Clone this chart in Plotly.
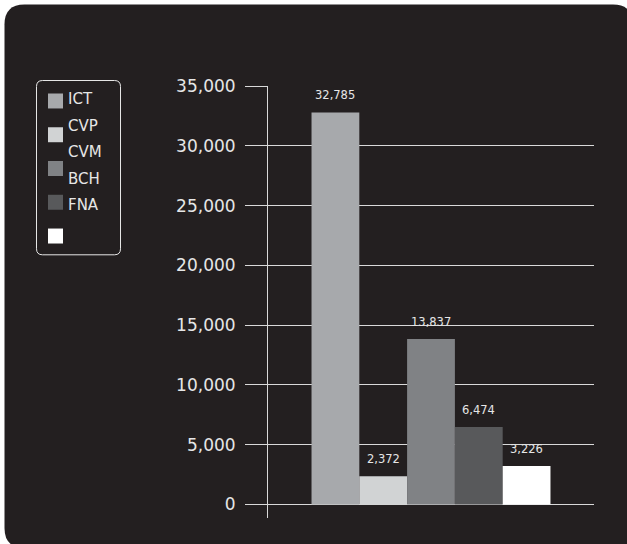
import plotly.graph_objects as go

# Series data
names = ["ICT", "CVP", "CVM", "BCH", "FNA"]
values = [32785, 2372, 13837, 6474, 3226]
colors = ["#a7a9ac", "#d1d3d4", "#808285", "#58595b", "#ffffff"]
y_ticks = [0, 5000, 10000, 15000, 20000, 25000, 30000, 35000]

W, H = 627, 544
ML, MR, MT, MB = 268, 33, 85.5, 26
PW, PH = W - ML - MR, H - MT - MB
BG = "#231f20"
FG = "#e6e6e6"
FONT = "DejaVu Sans"
BARGAP = 0.267


def px_x(px):
    return (px - ML) / PW


def px_y(py):
    return (H - MB - py) / PH


fig = go.Figure()
for name, val, col in zip(names, values, colors):
    fig.add_trace(go.Bar(
        x=[""], y=[val], name=name,
        marker=dict(color=col, line=dict(width=0)),
        showlegend=False,
    ))

annotations = []
# value labels above each bar of the group
bar_px = PW * (1 - BARGAP) / len(values)
for i, val in enumerate(values):
    annotations.append(dict(
        x=0, y=val, xref="x", yref="y",
        xshift=(i - (len(values) - 1) / 2) * bar_px, yshift=8,
        xanchor="center", yanchor="bottom", showarrow=False,
        text=f"{val:,}", font=dict(color=FG, size=11.5, family=FONT),
    ))

shapes = []
# rounded dark panel behind the chart
x0, y0, x1, y1, r = px_x(4.5), px_y(4), px_x(633), px_y(548), 20
rx, ry = r / PW, r / PH
shapes.append(dict(
    type="path", xref="paper", yref="paper", layer="below",
    path=(f"M {x0+rx},{y0} L {x1-rx},{y0} Q {x1},{y0} {x1},{y0-ry} "
          f"L {x1},{y1+ry} Q {x1},{y1} {x1-rx},{y1} "
          f"L {x0+rx},{y1} Q {x0},{y1} {x0},{y1+ry} "
          f"L {x0},{y0-ry} Q {x0},{y0} {x0+rx},{y0} Z"),
    fillcolor=BG, line=dict(width=0),
))

# legend box
lx0, ly0, lx1, ly1, lr = px_x(36.5), px_y(80), px_x(120.5), px_y(254.5), 6
lrx, lry = lr / PW, lr / PH
shapes.append(dict(
    type="path", xref="paper", yref="paper",
    path=(f"M {lx0+lrx},{ly0} L {lx1-lrx},{ly0} Q {lx1},{ly0} {lx1},{ly0-lry} "
          f"L {lx1},{ly1+lry} Q {lx1},{ly1} {lx1-lrx},{ly1} "
          f"L {lx0+lrx},{ly1} Q {lx0},{ly1} {lx0},{ly1+lry} "
          f"L {lx0},{ly0-lry} Q {lx0},{ly0} {lx0+lrx},{ly0} Z"),
    fillcolor="rgba(0,0,0,0)", line=dict(color=FG, width=1),
))

for i, (name, col) in enumerate(zip(names, colors)):
    top = 93 + i * 33.8
    shapes.append(dict(
        type="rect", xref="paper", yref="paper",
        x0=px_x(48), x1=px_x(63), y0=px_y(top), y1=px_y(top + 15),
        fillcolor=col, line=dict(width=0),
    ))
    annotations.append(dict(
        xref="paper", yref="paper", x=px_x(66), y=px_y(99 + i * 26.5),
        xanchor="left", yanchor="middle", showarrow=False,
        text=name, font=dict(color=FG, size=15, family=FONT),
    ))

fig.update_layout(
    width=W, height=H,
    margin=dict(l=ML, r=MR, t=MT, b=MB, pad=0),
    paper_bgcolor="#ffffff", plot_bgcolor="rgba(0,0,0,0)",
    barmode="group", bargap=BARGAP, bargroupgap=0,
    shapes=shapes, annotations=annotations,
    showlegend=False,
    xaxis=dict(type="category", range=[-0.5, 0.5],
               showticklabels=False, showgrid=False, zeroline=False,
               showline=False, ticks="", fixedrange=True),
    yaxis=dict(
        range=[-1128, 35000], tickvals=y_ticks,
        tickformat=",d", showgrid=True, gridcolor="#d9d9d9", gridwidth=1,
        zeroline=True, zerolinecolor="#d9d9d9", zerolinewidth=1,
        showline=True, linecolor="#d9d9d9", linewidth=1,
        ticks="outside", ticklen=22, tickcolor="#d9d9d9", tickwidth=1,
        ticklabelstandoff=6,
        tickfont=dict(color=FG, size=17, family=FONT),
    ),
)

fig.write_html("out.html")
